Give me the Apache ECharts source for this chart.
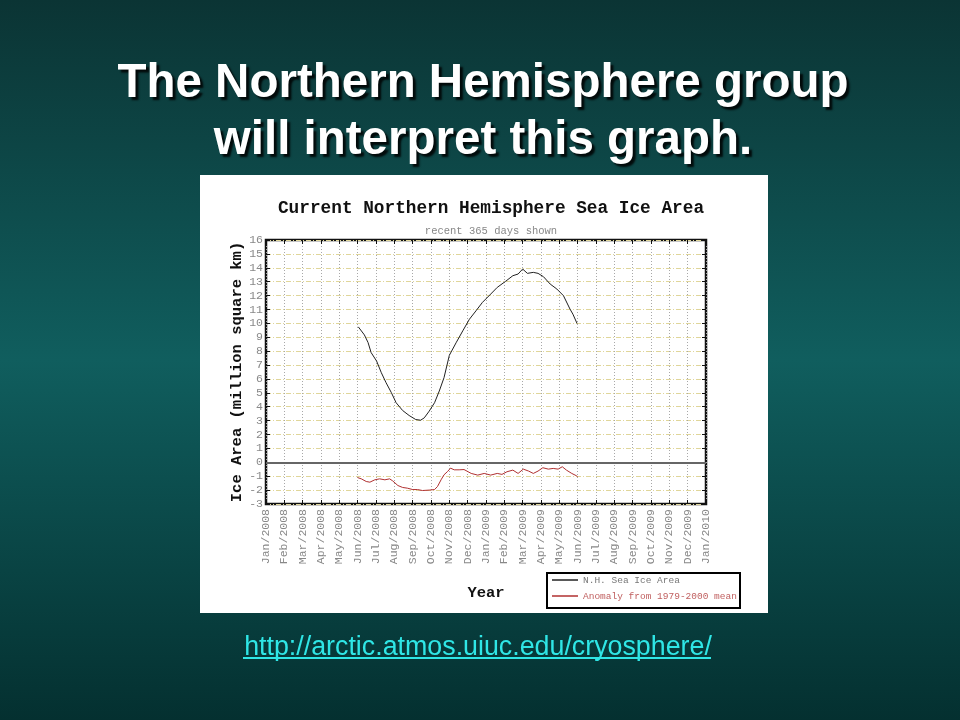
<!DOCTYPE html>
<html><head><meta charset="utf-8">
<script src="https://cdn.jsdelivr.net/npm/echarts@6/dist/echarts.min.js"></script>
<style>html,body{margin:0;padding:0;background:#0c3f3f}#c{width:960px;height:720px}</style>
</head><body><div id="c"></div>
<script>
const monthLabels = ['Jan/2008','Feb/2008','Mar/2008','Apr/2008','May/2008','Jun/2008','Jul/2008','Aug/2008','Sep/2008','Oct/2008','Nov/2008','Dec/2008',
  'Jan/2009','Feb/2009','Mar/2009','Apr/2009','May/2009','Jun/2009','Jul/2009','Aug/2009','Sep/2009','Oct/2009','Nov/2009','Dec/2009','Jan/2010'];

const areaDates = ['2008-06-02','2008-06-12','2008-06-18','2008-06-23','2008-07-02','2008-07-10','2008-07-18','2008-07-27','2008-08-04','2008-08-15',
  '2008-08-26','2008-09-06','2008-09-14','2008-09-20','2008-09-28','2008-10-07','2008-10-15','2008-10-23','2008-11-01','2008-11-12',
  '2008-11-23','2008-12-04','2008-12-15','2008-12-26','2009-01-09','2009-01-20','2009-02-03','2009-02-14','2009-02-22','2009-03-01',
  '2009-03-09','2009-03-19','2009-03-27','2009-04-05','2009-04-16','2009-04-27','2009-05-08','2009-05-19','2009-05-24','2009-05-31'];
const areaValues = [9.75,9.17,8.62,7.90,7.29,6.45,5.73,5.01,4.29,3.73,
  3.37,3.08,3.03,3.20,3.68,4.29,5.13,6.09,7.70,8.60,
  9.46,10.30,10.90,11.51,12.11,12.59,13.03,13.43,13.55,13.91,
  13.60,13.67,13.60,13.36,12.83,12.47,11.99,11.03,10.66,9.99];

const anomalyDates = ['2008-06-01','2008-06-07','2008-06-15','2008-06-21','2008-06-29','2008-07-07','2008-07-16','2008-07-24','2008-07-29','2008-08-07',
  '2008-08-15','2008-08-23','2008-09-01','2008-09-09','2008-09-17','2008-09-28','2008-10-07','2008-10-12','2008-10-18','2008-10-23',
  '2008-10-29','2008-11-03','2008-11-09','2008-11-17','2008-11-25','2008-12-07','2008-12-18','2008-12-29','2009-01-09','2009-01-20',
  '2009-01-28','2009-02-05','2009-02-14','2009-02-22','2009-03-02','2009-03-11','2009-03-19','2009-03-27','2009-04-04','2009-04-13',
  '2009-04-21','2009-04-29','2009-05-06','2009-05-13','2009-05-22','2009-05-30','2009-06-01'];
const anomalyValues = [-1.10,-1.19,-1.38,-1.43,-1.26,-1.19,-1.26,-1.19,-1.33,-1.67,
  -1.81,-1.86,-1.96,-1.96,-2.03,-2.00,-1.96,-1.74,-1.26,-0.90,
  -0.66,-0.42,-0.54,-0.54,-0.52,-0.80,-0.92,-0.80,-0.92,-0.80,
  -0.87,-0.68,-0.56,-0.80,-0.49,-0.63,-0.80,-0.63,-0.39,-0.49,
  -0.44,-0.49,-0.32,-0.56,-0.80,-0.97,-1.04];

function monthPos(s) {
  const p = s.split('-').map(Number);
  const dim = new Date(p[0], p[1], 0).getDate();
  return (p[0] - 2008) * 12 + (p[1] - 1) + (p[2] - 1) / dim;
}
const areaData = areaDates.map((d, i) => [monthPos(d), areaValues[i]]);
const anomalyData = anomalyDates.map((d, i) => [monthPos(d), anomalyValues[i]]);

const MONO = '"Liberation Mono", "DejaVu Sans Mono", monospace';
const SANS = '"Liberation Sans", Arial, sans-serif';
const tickStyle = {show: true, inside: true, length: 4, lineStyle: {color: '#111'}};

const chart = echarts.init(document.getElementById('c'), null, {renderer: 'canvas'});
chart.setOption({
  animation: false,
  backgroundColor: {type: 'linear', x: 0, y: 0, x2: 0, y2: 1, colorStops: [
    {offset: 0, color: '#0b3434'}, {offset: 0.5, color: '#105e5e'}, {offset: 1, color: '#043030'}]},
  graphic: [
    {type: 'rect', shape: {x: 200, y: 175, width: 568, height: 438}, style: {fill: '#ffffff'}, z: -10},
    {type: 'rect', shape: {x: 547, y: 573, width: 193, height: 35}, style: {fill: '#ffffff', stroke: '#000', lineWidth: 2}, z: 5},
    {type: 'line', shape: {x1: 243, y1: 658, x2: 711, y2: 658}, style: {stroke: '#2fe6e6', lineWidth: 2}}
  ],
  title: [
    {text: 'The Northern Hemisphere group\nwill interpret this graph.', left: 478, top: 50, textAlign: 'center',
     textStyle: {color: '#ffffff', fontFamily: SANS, fontWeight: 'bold', fontSize: 47.5, lineHeight: 57,
       textShadowColor: 'rgba(0,0,0,0.85)', textShadowOffsetX: 3, textShadowOffsetY: 3, textShadowBlur: 2}},
    {text: 'Current Northern Hemisphere Sea Ice Area', left: 486, top: 195, textAlign: 'center',
     textStyle: {color: '#111', fontFamily: MONO, fontWeight: 'bold', fontSize: 17.75}},
    {text: 'recent 365 days shown', left: 486, top: 221, textAlign: 'center',
     textStyle: {color: '#888', fontFamily: MONO, fontWeight: 'normal', fontSize: 10.5}},
    {text: 'http://arctic.atmos.uiuc.edu/cryosphere/', left: 473, top: 629, textAlign: 'center',
     textStyle: {color: '#2fe6e6', fontFamily: SANS, fontWeight: 'normal', fontSize: 26.8}}
  ],
  legend: {
    left: 552, top: 575, orient: 'vertical', padding: 0, itemGap: 6, itemWidth: 26, itemHeight: 1.5, icon: 'rect',
    textStyle: {fontFamily: MONO, fontSize: 9.5}, z: 6,
    data: [{name: 'N.H. Sea Ice Area', textStyle: {color: '#777'}},
           {name: 'Anomaly from 1979-2000 mean', textStyle: {color: '#c06060'}}]
  },
  grid: {left: 266, top: 240, width: 440, height: 264, show: true, borderColor: '#111', borderWidth: 2.5, backgroundColor: 'transparent'},
  xAxis: [
    {type: 'value', min: 0, max: 24, interval: 1, position: 'bottom',
     name: 'Year', nameLocation: 'middle', nameGap: 81,
     nameTextStyle: {fontFamily: MONO, fontWeight: 'bold', fontSize: 15.5, color: '#111'},
     axisLine: {show: false, onZero: false},
     axisTick: tickStyle,
     axisLabel: {rotate: 90, margin: 5, color: '#888', fontFamily: MONO, fontSize: 11.5,
       formatter: v => monthLabels[Math.round(v)] || ''},
     splitLine: {show: true, lineStyle: {color: '#a8a8a8', type: [1, 2], width: 1}}},
    {type: 'value', min: 0, max: 24, interval: 1, position: 'top',
     axisLine: {show: false, onZero: false}, axisLabel: {show: false}, splitLine: {show: false},
     axisTick: tickStyle}
  ],
  yAxis: [
    {type: 'value', min: -3, max: 16, interval: 1, position: 'left',
     name: 'Ice Area (million square km)', nameLocation: 'middle', nameGap: 21, nameRotate: 90,
     nameTextStyle: {fontFamily: MONO, fontWeight: 'bold', fontSize: 15.5, color: '#111'},
     axisLine: {show: false, onZero: false},
     axisTick: tickStyle,
     axisLabel: {margin: 3, color: '#888', fontFamily: MONO, fontSize: 11.5},
     splitLine: {show: true, lineStyle: {color: '#e0d69a', type: [5, 2, 1, 2], width: 1}}},
    {type: 'value', min: -3, max: 16, interval: 1, position: 'right',
     axisLine: {show: false, onZero: false}, axisLabel: {show: false}, splitLine: {show: false},
     axisTick: tickStyle}
  ],
  series: [
    {name: 'N.H. Sea Ice Area', type: 'line', data: areaData, showSymbol: false, symbol: 'none',
     lineStyle: {color: '#222', width: 1}, itemStyle: {color: '#222'}, z: 3,
     markLine: {silent: true, symbol: 'none', label: {show: false},
       lineStyle: {color: '#666', width: 2, type: 'solid'}, data: [{yAxis: 0}]}},
    {name: 'Anomaly from 1979-2000 mean', type: 'line', data: anomalyData, showSymbol: false, symbol: 'none',
     lineStyle: {color: '#b03030', width: 1}, itemStyle: {color: '#b03030'}, z: 3}
  ]
});
</script>
</body></html>
